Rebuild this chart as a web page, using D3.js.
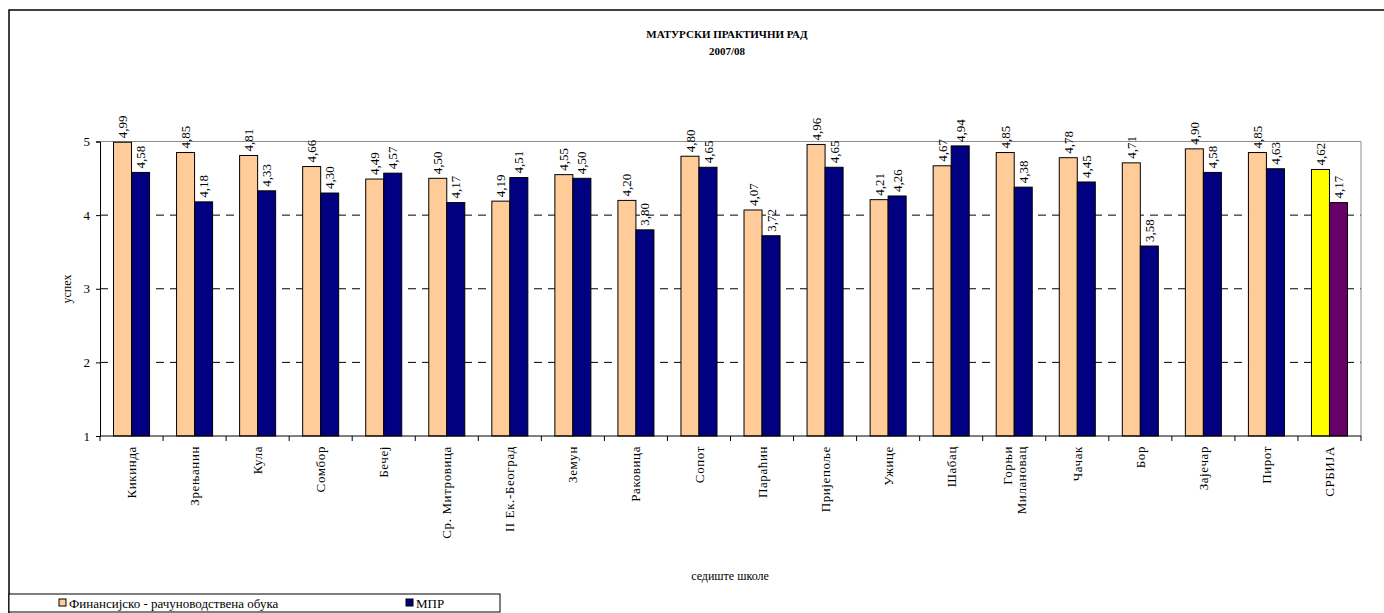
<!DOCTYPE html>
<html lang="sr">
<head>
  <meta charset="UTF-8">
  <title>Матурски практични рад 2007/08</title>
  <style>
    body {
      margin: 0;
      background: #fff;
      overflow: hidden;
    }
    svg text {
      font-family: "Liberation Serif", "Times New Roman", serif;
      fill: #000;
    }
  </style>
</head>
<body>
  <svg id="chart" width="1384" height="613"></svg>

  <script src="https://d3js.org/d3.v7.min.js"></script>
  <script>
    const categories = [
      "Кикинда", "Зрењанин", "Кула", "Сомбор", "Бечеј", "Ср. Митровица",
      "II Ек.-Београд", "Земун", "Раковица", "Сопот", "Параћин", "Пријепоље",
      "Ужице", "Шабац", "Горњи|Милановац", "Чачак", "Бор", "Зајечар", "Пирот", "СРБИЈА"
    ];
    const finValues = [4.99, 4.85, 4.81, 4.66, 4.49, 4.50, 4.19, 4.55, 4.20, 4.80,
                       4.07, 4.96, 4.21, 4.67, 4.85, 4.78, 4.71, 4.90, 4.85, 4.62];
    const mprValues = [4.58, 4.18, 4.33, 4.30, 4.57, 4.17, 4.51, 4.50, 3.80, 4.65,
                       3.72, 4.65, 4.26, 4.94, 4.38, 4.45, 3.58, 4.58, 4.63, 4.17];
    const yTicks = [1, 2, 3, 4, 5];
    const seriesNames = ["Финансијско - рачуноводствена обука", "МПР"];

    const FONT = "\"Liberation Serif\", \"Times New Roman\", serif";
    const svg = d3.select("#chart");

    // outer chart frame
    svg.append("rect")
      .attr("x", 9).attr("y", 10)
      .attr("width", 1500).attr("height", 700)
      .attr("fill", "none").attr("stroke", "#000").attr("stroke-width", 1.5);

    const plotLeft = 100, plotRight = 1361, plotTop = 141.5, plotBottom = 436;

    const x = d3.scaleBand().domain(d3.range(categories.length)).range([plotLeft, plotRight]);
    const inner = d3.scaleBand().domain([0, 1]).range([0, x.bandwidth()]).paddingOuter(0.75).paddingInner(0);
    const y = d3.scaleLinear().domain([1, 5]).range([plotBottom, plotTop]);

    // title
    svg.append("text")
      .attr("x", 727).attr("y", 38)
      .attr("text-anchor", "middle")
      .style("font-size", "11px").style("font-weight", "bold")
      .text("МАТУРСКИ ПРАКТИЧНИ РАД");
    svg.append("text")
      .attr("x", 727).attr("y", 55)
      .attr("text-anchor", "middle")
      .style("font-size", "11px").style("font-weight", "bold")
      .text("2007/08");

    // grid
    svg.append("g")
      .selectAll("line")
      .data(yTicks.filter(t => t > 1 && t < 5))
      .enter().append("line")
      .attr("x1", plotLeft).attr("x2", plotRight)
      .attr("y1", d => y(d)).attr("y2", d => y(d))
      .attr("stroke", "#000").attr("stroke-dasharray", "8,6");

    // plot area border (top/right)
    svg.append("path")
      .attr("d", `M${plotLeft},${plotTop}H${plotRight}V${plotBottom}`)
      .attr("fill", "none").attr("stroke", "#8c8c8c");

    // bars
    const groups = svg.append("g")
      .selectAll("g")
      .data(categories.map((c, i) => i))
      .enter().append("g")
      .attr("transform", i => `translate(${x(i)},0)`);

    const isLast = i => i === categories.length - 1;

    groups.each(function (i) {
      const g = d3.select(this);
      const vals = [finValues[i], mprValues[i]];
      const fills = isLast(i) ? ["#FFFF00", "#660066"] : ["#FFCC99", "#000080"];
      vals.forEach((v, s) => {
        g.append("rect")
          .attr("x", inner(s))
          .attr("y", y(v))
          .attr("width", inner.bandwidth())
          .attr("height", y(1) - y(v))
          .attr("fill", fills[s])
          .attr("stroke", "#000").attr("stroke-width", 1);
        const cx = inner(s) + inner.bandwidth() / 2;
        const cy = y(v) - 4;
        g.append("text")
          .attr("transform", `translate(${cx},${cy}) rotate(-90)`)
          .attr("dy", "0.35em")
          .style("font-size", "13px")
          .text(d3.format(".2f")(v).replace(".", ","));
      });
    });

    // y axis
    const yAxis = svg.append("g").attr("transform", `translate(${plotLeft},0)`)
      .call(d3.axisLeft(y).tickValues(yTicks).tickFormat(d3.format("d")).tickSize(4).tickPadding(6));
    yAxis.attr("font-family", null);
    yAxis.select(".domain").attr("stroke", "#000");
    yAxis.selectAll("text").style("font-size", "13px").style("font-family", FONT);

    // x axis line and ticks at category boundaries
    svg.append("line")
      .attr("x1", plotLeft).attr("x2", plotRight)
      .attr("y1", plotBottom).attr("y2", plotBottom)
      .attr("stroke", "#000");
    svg.append("g")
      .selectAll("line")
      .data(d3.range(categories.length + 1))
      .enter().append("line")
      .attr("x1", i => plotLeft + i * x.step()).attr("x2", i => plotLeft + i * x.step())
      .attr("y1", plotBottom).attr("y2", plotBottom + 5)
      .attr("stroke", "#000");

    // category labels
    const catLabels = svg.append("g")
      .selectAll("g")
      .data(categories)
      .enter().append("g")
      .attr("transform", (d, i) => `translate(${x(i) + x.bandwidth() / 2},${plotBottom + 10}) rotate(-90)`);

    catLabels.each(function (d) {
      const lines = d.split("|");
      const g = d3.select(this);
      lines.forEach((ln, k) => {
        g.append("text")
          .attr("text-anchor", "end")
          .attr("y", (k - (lines.length - 1) / 2) * 14)
          .attr("dy", "0.35em")
          .style("font-size", "13px")
          .style("letter-spacing", "0.6px")
          .text(ln);
      });
    });

    // axis titles
    svg.append("text")
      .attr("transform", `translate(71,289) rotate(-90)`)
      .attr("text-anchor", "middle")
      .style("font-size", "12px")
      .text("успех");
    svg.append("text")
      .attr("x", 730).attr("y", 580)
      .attr("text-anchor", "middle")
      .style("font-size", "12px")
      .text("седиште школе");

    // legend
    const legend = svg.append("g");
    legend.append("rect")
      .attr("x", 9).attr("y", 594)
      .attr("width", 491).attr("height", 18)
      .attr("fill", "#fff").attr("stroke", "#000").attr("stroke-width", 1);
    const legendFill = ["#FFCC99", "#000080"];
    const legendX = [59, 406];
    seriesNames.forEach((name, s) => {
      legend.append("rect")
        .attr("x", legendX[s]).attr("y", 599)
        .attr("width", 7).attr("height", 7)
        .attr("fill", legendFill[s]).attr("stroke", "#000");
      legend.append("text")
        .attr("x", legendX[s] + 10).attr("y", 603)
        .attr("dy", "0.35em")
        .style("font-size", "13px")
        .text(name);
    });
  </script>
</body>
</html>
